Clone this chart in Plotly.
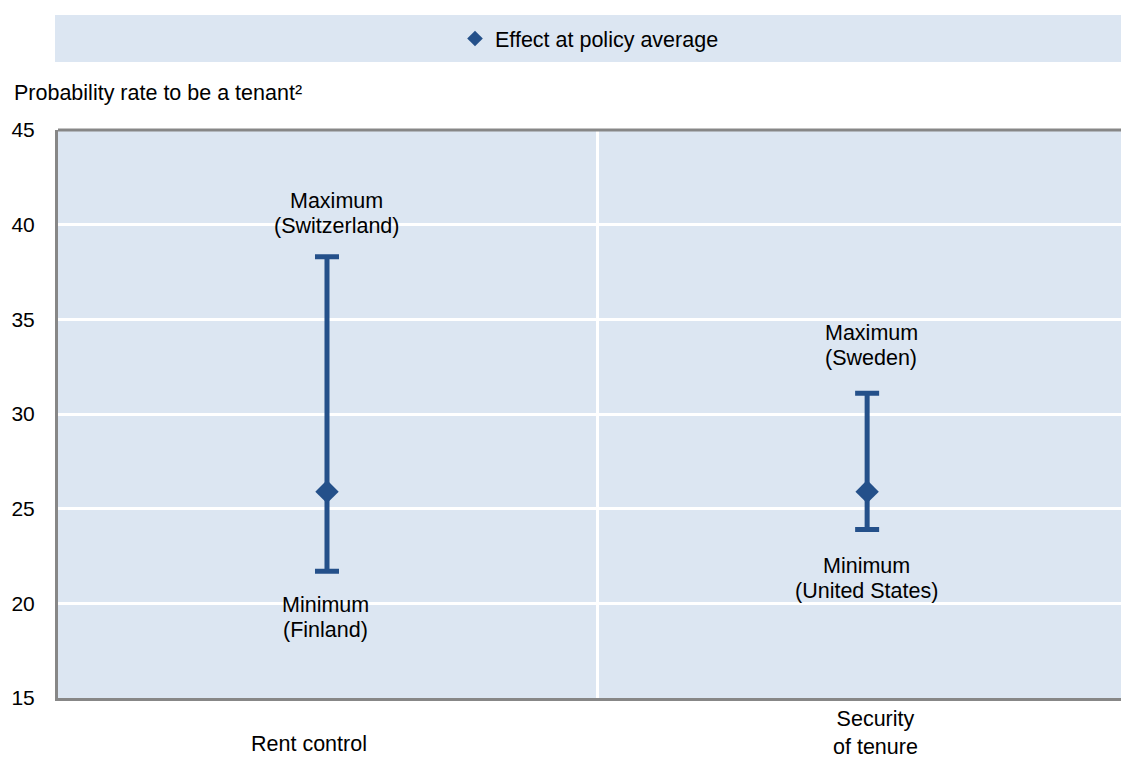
import plotly.graph_objects as go

categories = ["Rent control", "Security<br>of tenure"]
avg_values = [25.9, 25.9]
max_values = [38.3, 31.1]
min_values = [21.7, 23.9]
max_labels = ["Maximum<br>(Switzerland)", "Maximum<br>(Sweden)"]
min_labels = ["Minimum<br>(Finland)", "Minimum<br>(United States)"]
y_ticks = [15, 20, 25, 30, 35, 40, 45]

BLUE = "#24508a"
BG = "#dce6f2"
BORDER = "#878787"
FONT = "Liberation Sans, Arial, sans-serif"
FS = 21.5
LINE_GAP = 25

xpos = list(range(len(categories)))

fig = go.Figure()
fig.add_trace(go.Scatter(
    x=xpos, y=avg_values, mode="markers", name="Effect at policy average",
    marker=dict(symbol="diamond", size=18, color=BLUE),
    error_y=dict(type="data", symmetric=False,
                 array=[mx - a for mx, a in zip(max_values, avg_values)],
                 arrayminus=[a - mn for mn, a in zip(min_values, avg_values)],
                 color=BLUE, thickness=5, width=12),
    showlegend=True,
    hoverinfo="skip",
))


def add_label(x, y, text, xshift, yref="y", yshift0=0, gap=LINE_GAP):
    for k, line in enumerate(text.split("<br>")):
        fig.add_annotation(x=x, y=y, yref=yref, text=line, showarrow=False,
                           xanchor="center", yanchor="middle",
                           xshift=xshift, yshift=yshift0 - gap * k,
                           font=dict(size=FS, color="black", family=FONT))


max_offsets = [2.95, 3.18]
max_xshift = [10, 4]
min_offsets = [-1.79, -1.93]
min_xshift = [-1, -1]
for i in xpos:
    add_label(i, max_values[i] + max_offsets[i], max_labels[i], max_xshift[i])
    add_label(i, min_values[i] + min_offsets[i], min_labels[i], min_xshift[i])

# category labels below the axis
cat_xshift = [-18, 8]
fig.add_annotation(x=0, y=0, yref="paper", text=categories[0], showarrow=False,
                   xanchor="center", yanchor="middle", xshift=cat_xshift[0], yshift=-46,
                   font=dict(size=FS, color="black", family=FONT))
fig.add_annotation(x=1, y=0, yref="paper", text=categories[1], showarrow=False,
                   xanchor="center", yanchor="bottom", xshift=cat_xshift[1], yshift=-63,
                   font=dict(size=FS, color="black", family=FONT))

fig.add_annotation(x=-0.0433, xref="paper", y=1.0651, yref="paper",
                   text="Probability rate to be a tenant²", showarrow=False,
                   xanchor="left", yanchor="middle",
                   font=dict(size=FS, color="black", family=FONT))

# legend background band
fig.add_shape(type="rect", xref="paper", yref="paper", x0=-0.0028, x1=1.0,
              y0=1.1197, y1=1.2025, fillcolor=BG, line=dict(width=0), layer="below")
# top border
fig.add_shape(type="line", xref="paper", yref="paper", x0=0, x1=1, y0=1, y1=1,
              line=dict(color=BORDER, width=3), layer="above")

fig.update_layout(
    width=1121, height=762,
    margin=dict(l=58, r=0, t=130, b=64),
    paper_bgcolor="white", plot_bgcolor=BG,
    font=dict(family=FONT, size=FS, color="black"),
    legend=dict(orientation="h", x=0.5, xanchor="center", y=1.161, yanchor="middle",
                bgcolor="rgba(0,0,0,0)", itemsizing="constant",
                font=dict(size=FS, family=FONT, color="black")),
    xaxis=dict(range=[-0.498, 1.470], tickvals=[0.5], showticklabels=False,
               showgrid=True, gridcolor="white", gridwidth=3, zeroline=False,
               showline=True, linecolor=BORDER, linewidth=3, ticks=""),
    yaxis=dict(range=[15, 45], tickvals=y_ticks, showgrid=True, gridcolor="white",
               gridwidth=3, zeroline=False, showline=True, linecolor=BORDER,
               linewidth=3, ticks="", ticklabelstandoff=16,
               tickfont=dict(size=21, family=FONT, color="black")),
)

fig.write_html("out.html", config={"displayModeBar": False},
               post_script="document.body.style.margin='0';document.body.style.overflow='hidden';")
